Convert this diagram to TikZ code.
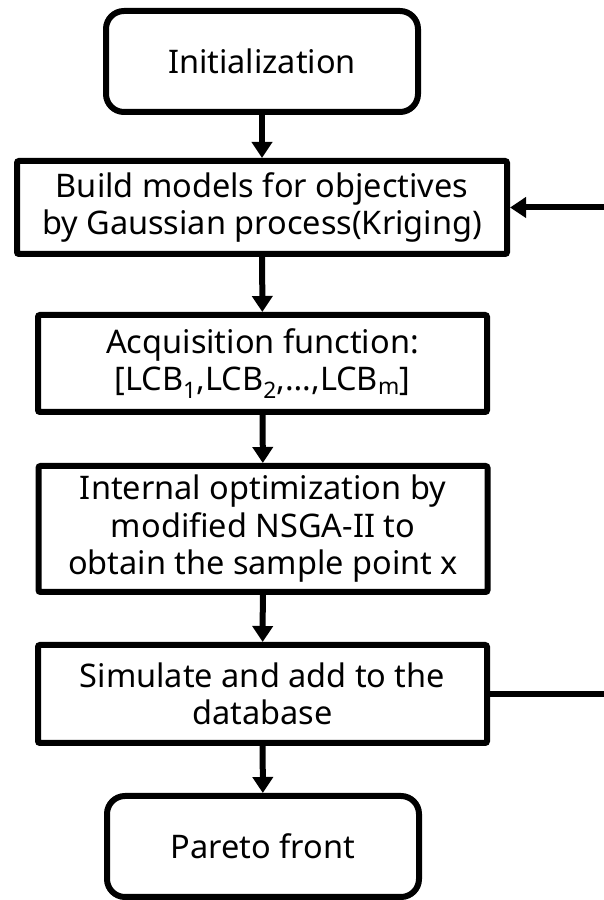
\documentclass[tikz,border=0pt]{standalone}
\usepackage{fontspec}
\setmainfont{Noto Sans}
\usetikzlibrary{arrows.meta}
\begin{document}
\begin{tikzpicture}[x=1pt,y=1pt,
  box/.style={draw=black, line width=6pt, align=center, inner sep=0pt,
    font=\fontsize{32.5}{37.5}\selectfont},
  terminal/.style={box, rounded corners=18pt, minimum width=312pt, minimum height=101pt},
  process/.style={box, rounded corners=2pt, minimum width=449pt},
  flow/.style={line width=6pt, -{Triangle[length=16pt,width=20pt]}},
]
\useasboundingbox (0,0) rectangle (604,900);

% process chain
\node[terminal] (init) at (262,838.5) {Initialization};
\node[process, minimum width=490pt, minimum height=93pt] (build) at (262,692.5)
  {Build models for objectives\\by Gaussian process(Kriging)};
\node[process, minimum height=97pt] (acq) at (262.5,536.5)
  {Acquisition function:\\{}[LCB\textsubscript{1},LCB\textsubscript{2},\dots,LCB\textsubscript{m}]};
\node[process, minimum height=126pt] (opt) at (263,371)
  {Internal optimization by\\modified NSGA-II to\\obtain the sample point x};
\node[process, minimum height=98pt] (sim) at (262.5,206)
  {Simulate and add to the\\database};
\node[terminal] (pareto) at (263,53.5) {Pareto front};

% forward arrows
\draw[flow] (init) -- (build);
\draw[flow] (build) -- (acq);
\draw[flow] (acq) -- (opt);
\draw[flow] (opt) -- (sim);
\draw[flow] (sim) -- (pareto);

% feedback loop (its return leg runs just past the right edge)
\coordinate (loopR) at (614,450);
\draw[flow] (sim.east) -- (loopR |- sim.east) -- (loopR |- build.east) -- (build.east);
\end{tikzpicture}
\end{document}
